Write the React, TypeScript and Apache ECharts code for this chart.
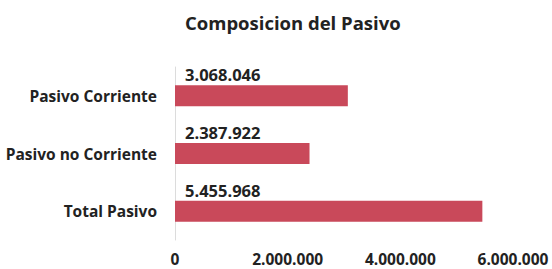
import React, { useEffect, useRef } from "react";
import * as echarts from "echarts";

const categories = ["Pasivo Corriente", "Pasivo no Corriente", "Total Pasivo"];
const values = [3068046, 2387922, 5455968];
const axisTicks = [0, 2000000, 4000000, 6000000];
const titleText = "Composicion del Pasivo";

const fmt = (v: number) => String(Math.round(v)).replace(/\B(?=(\d{3})+(?!\d))/g, ".");

export default function App() {
  const ref = useRef<HTMLDivElement>(null);
  useEffect(() => {
    document.body.style.margin = "0";
    const chart = echarts.init(ref.current!, null, { renderer: "svg" });
    const font = "'Open Sans', 'Liberation Sans', sans-serif";
    chart.setOption({
      animation: false,
      backgroundColor: "#ffffff",
      title: {
        text: titleText,
        left: 180,
        top: 8,
        textStyle: { fontFamily: font, fontWeight: "bold", fontSize: 18.5, color: "#222" },
      },
      grid: { left: 175, right: 39, top: 67, bottom: 29, containLabel: false },
      xAxis: {
        type: "value",
        min: axisTicks[0],
        max: axisTicks[axisTicks.length - 1],
        interval: axisTicks[1] - axisTicks[0],
        splitLine: { show: false },
        axisLine: { show: false },
        axisTick: { show: false },
        axisLabel: {
          formatter: (v: number) => fmt(v),
          margin: 11,
          fontFamily: font,
          fontWeight: "bold",
          fontSize: 15.5,
          color: "#222",
        },
      },
      yAxis: {
        type: "category",
        data: categories,
        inverse: true,
        axisLine: { show: true, lineStyle: { color: "#dcdcdc", width: 1 } },
        axisTick: { show: false },
        axisLabel: {
          margin: 18,
          fontFamily: font,
          fontWeight: "bold",
          fontSize: 15.5,
          color: "#222",
          padding: [0, 0, 5, 0],
        },
      },
      series: [
        {
          type: "bar",
          data: values,
          barWidth: 21,
          itemStyle: { color: "#c9495a" },
          label: {
            show: true,
            position: [10, -19],
            formatter: (p: any) => fmt(p.value),
            fontFamily: font,
            fontWeight: "bold",
            fontSize: 16.5,
            color: "#222",
          },
        },
      ],
    });
    return () => chart.dispose();
  }, []);
  return <div ref={ref} style={{ width: 552, height: 269 }} />;
}
